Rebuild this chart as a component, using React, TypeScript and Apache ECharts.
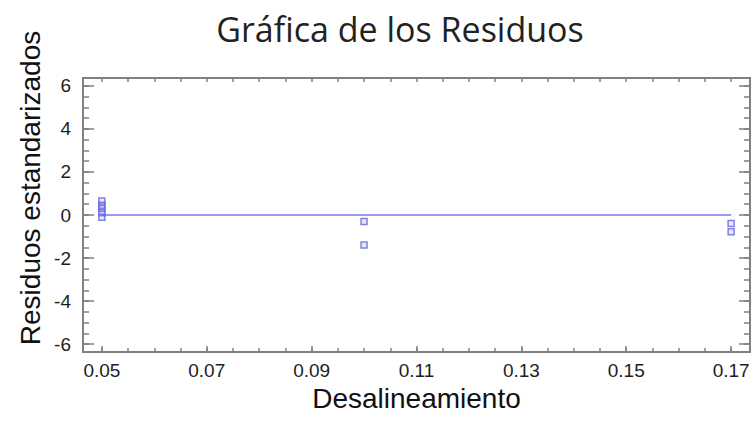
import React, { useEffect, useRef } from "react";
import * as echarts from "echarts";

const titleText = "Gráfica de los Residuos";
const xName = "Desalineamiento";
const yName = "Residuos estandarizados";

const xMajorTicks = [0.05, 0.07, 0.09, 0.11, 0.13, 0.15, 0.17];
const xMinorTicks = [
  0.05, 0.055, 0.06, 0.065, 0.07, 0.075, 0.08, 0.085, 0.09, 0.095, 0.1, 0.105, 0.11, 0.115,
  0.12, 0.125, 0.13, 0.135, 0.14, 0.145, 0.15, 0.155, 0.16, 0.165, 0.17,
];
const yMajorTicks = [-6, -4, -2, 0, 2, 4, 6];
const yMinorTicks = [
  -6, -5.5, -5, -4.5, -4, -3.5, -3, -2.5, -2, -1.5, -1, -0.5, 0, 0.5, 1, 1.5, 2, 2.5, 3, 3.5,
  4, 4.5, 5, 5.5, 6,
];

const desalineamiento = [0.05, 0.05, 0.05, 0.05, 0.05, 0.1, 0.1, 0.17, 0.17];
const residuos = [0.65, 0.45, 0.3, 0.1, -0.1, -0.3, -1.4, -0.4, -0.78];
const zeroLine = [
  [0.05, 0],
  [0.17, 0],
];

const X_MIN = 0.0464;
const X_MAX = 0.1736;
const Y_MIN = -6.37;
const Y_MAX = 6.37;

const axisColor = "#808080";
const textColor = "#1e1e1e";

export default function App() {
  const ref = useRef<HTMLDivElement>(null);
  useEffect(() => {
    if (!ref.current) return;
    const chart = echarts.init(ref.current, null, { renderer: "svg" });
    const fmtX = (v: number) => v.toFixed(2);
    const baseX = (position: "bottom" | "top", minor: boolean, showLabel: boolean) => ({
      type: "value",
      min: X_MIN,
      max: X_MAX,
      position,
      axisLine: { show: true, onZero: false, lineStyle: { color: axisColor, width: 2 } },
      splitLine: { show: false },
      axisTick: {
        show: true,
        inside: true,
        length: minor ? 4 : 6,
        lineStyle: { color: axisColor, width: 1.5 },
        customValues: minor ? xMinorTicks : xMajorTicks,
      },
      axisLabel: {
        show: showLabel,
        customValues: xMajorTicks,
        formatter: fmtX,
        color: textColor,
        fontFamily: "Liberation Sans, Arial, sans-serif",
        fontSize: 19,
        margin: 9,
      },
    });
    const baseY = (position: "left" | "right", minor: boolean, showLabel: boolean) => ({
      type: "value",
      min: Y_MIN,
      max: Y_MAX,
      position,
      axisLine: { show: true, onZero: false, lineStyle: { color: axisColor, width: 2 } },
      splitLine: { show: false },
      axisTick: {
        show: true,
        inside: true,
        length: minor ? 6 : 11,
        lineStyle: { color: axisColor, width: 1.5 },
        customValues: minor ? yMinorTicks : yMajorTicks,
      },
      axisLabel: {
        show: showLabel,
        customValues: yMajorTicks,
        color: textColor,
        fontFamily: "Liberation Sans, Arial, sans-serif",
        fontSize: 19,
        margin: 12,
      },
    });
    const xMain: any = baseX("bottom", false, true);
    xMain.name = xName;
    xMain.nameLocation = "middle";
    xMain.nameGap = 27;
    xMain.nameTextStyle = {
      color: "#111",
      fontFamily: "Liberation Sans, Arial, sans-serif",
      fontSize: 28,
    };
    chart.setOption({
      animation: false,
      title: {
        text: titleText,
        left: 395,
        top: 7,
        textAlign: "center",
        textStyle: {
          color: "#222",
          fontFamily: "Open Sans, sans-serif",
          fontSize: 34,
          fontWeight: "normal",
        },
      },
      graphic: [
        {
          type: "text",
          x: 30,
          y: 188,
          rotation: Math.PI / 2,
          style: {
            text: yName,
            fill: "#111",
            font: '28px "Liberation Sans", Arial, sans-serif',
            align: "center",
            verticalAlign: "middle",
          },
        },
      ],
      grid: { left: 83, top: 78, right: 4, bottom: 71, containLabel: false },
      xAxis: [xMain, baseX("bottom", true, false), baseX("top", true, false)],
      yAxis: [
        baseY("left", false, true),
        baseY("left", true, false),
        baseY("right", false, false),
        baseY("right", true, false),
      ],
      series: [
        {
          type: "line",
          data: zeroLine,
          xAxisIndex: 0,
          yAxisIndex: 0,
          showSymbol: false,
          symbol: "none",
          lineStyle: { color: "#7878ee", width: 1.5 },
          z: 2,
        },
        {
          type: "scatter",
          data: desalineamiento.map((x, i) => [x, residuos[i]]),
          xAxisIndex: 0,
          yAxisIndex: 0,
          symbol: "rect",
          symbolSize: 6,
          itemStyle: {
            color: "rgba(140,140,245,0.25)",
            borderColor: "#6464dc",
            borderWidth: 1.5,
          },
          z: 3,
        },
      ],
    });
    return () => chart.dispose();
  }, []);
  return <div ref={ref} style={{ width: 754, height: 423, position: "absolute", left: 0, top: 0 }} />;
}
